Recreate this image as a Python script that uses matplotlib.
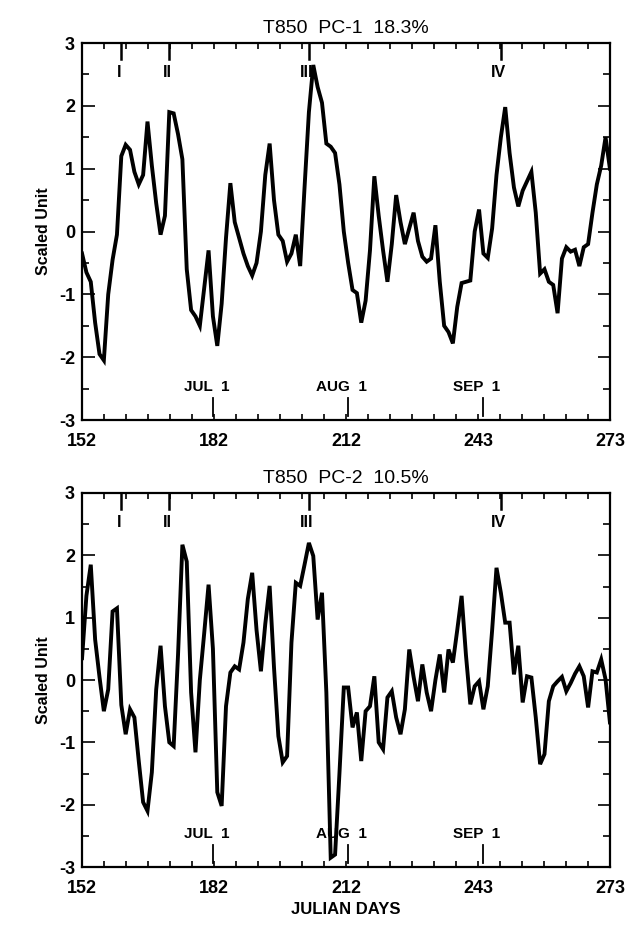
import numpy as np
import matplotlib
matplotlib.use("Agg")
import matplotlib.pyplot as plt
from matplotlib.ticker import MultipleLocator, FixedLocator

# julian days, June 1 to Sep 30
days = np.arange(152, 274)

pc1 = [-0.35, -0.65, -0.80, -1.45, -1.95, -2.05, -1.00, -0.45, -0.05, 1.20,
       1.38, 1.30, 0.95, 0.75, 0.90, 1.75, 1.05, 0.45, -0.05, 0.25,
       1.90, 1.88, 1.55, 1.15, -0.60, -1.25, -1.35, -1.50, -0.90, -0.30,
       -1.35, -1.82, -1.15, -0.10, 0.77, 0.15, -0.10, -0.35, -0.55, -0.70,
       -0.50, 0.00, 0.90, 1.40, 0.50, -0.05, -0.15, -0.48, -0.35, -0.05,
       -0.55, 0.70, 1.90, 2.65, 2.30, 2.05, 1.40, 1.35, 1.25, 0.75,
       0.00, -0.50, -0.93, -0.98, -1.45, -1.10, -0.30, 0.88, 0.25, -0.30,
       -0.80, -0.20, 0.58, 0.15, -0.20, 0.05, 0.30, -0.15, -0.40, -0.48,
       -0.43, 0.10, -0.80, -1.50, -1.60, -1.78, -1.20, -0.82, -0.80, -0.78,
       0.00, 0.35, -0.35, -0.42, 0.05, 0.90, 1.50, 1.98, 1.25, 0.70,
       0.40, 0.65, 0.80, 0.95, 0.30, -0.67, -0.60, -0.80, -0.85, -1.30,
       -0.43, -0.25, -0.32, -0.29, -0.55, -0.25, -0.20, 0.30, 0.75, 1.05,
       1.50, 1.00]

pc2 = [0.35, 1.35, 1.85, 0.65, 0.05, -0.50, -0.15, 1.10, 1.15, -0.40,
       -0.87, -0.47, -0.60, -1.30, -1.96, -2.10, -1.48, -0.15, 0.55, -0.42,
       -1.00, -1.06, 0.40, 2.17, 1.90, -0.20, -1.16, 0.00, 0.75, 1.53,
       0.50, -1.80, -2.02, -0.42, 0.12, 0.22, 0.17, 0.60, 1.30, 1.72,
       0.80, 0.14, 0.90, 1.51, 0.20, -0.90, -1.32, -1.22, 0.60, 1.56,
       1.51, 1.85, 2.20, 1.99, 0.97, 1.40, -0.20, -2.85, -2.80, -1.50,
       -0.12, -0.12, -0.76, -0.52, -1.30, -0.50, -0.42, 0.06, -1.00, -1.11,
       -0.28, -0.18, -0.60, -0.87, -0.47, 0.49, 0.05, -0.34, 0.25, -0.20,
       -0.50, 0.00, 0.41, -0.20, 0.49, 0.28, 0.80, 1.35, 0.40, -0.39,
       -0.10, -0.02, -0.47, -0.10, 0.80, 1.80, 1.40, 0.92, 0.92, 0.09,
       0.55, -0.36, 0.06, 0.04, -0.60, -1.35, -1.19, -0.34, -0.10, -0.02,
       0.05, -0.18, -0.05, 0.10, 0.22, 0.06, -0.44, 0.14, 0.12, 0.33,
       0.01, -0.68]

titles = ["T850  PC-1  18.3%", "T850  PC-2  10.5%"]
xtick_labels = ["152", "182", "212", "243", "273"]
event_days = [161, 172, 204, 248]
event_names = ["I", "II", "III", "IV"]
month_days = [182, 213, 244]
month_names = ["JUL  1", "AUG  1", "SEP  1"]

plt.rcParams["font.family"] = ["Liberation Sans", "DejaVu Sans"]
plt.rcParams["font.weight"] = "bold"
plt.rcParams["axes.unicode_minus"] = False

fig = plt.figure(figsize=(6.36, 9.33), dpi=100)
ax1 = fig.add_axes([0.129, 0.5498, 0.830, 0.4041])
ax2 = fig.add_axes([0.129, 0.0707, 0.830, 0.4009])

xmin, xmax = 152, 273
major_x = np.linspace(xmin, xmax, 5)
minor_x = np.linspace(xmin, xmax, 25)

for ax, series, title in zip([ax1, ax2], [pc1, pc2], titles):
    ax.plot(days, series, color="black", lw=2.8, solid_joinstyle="miter")
    ax.set_xlim(xmin, xmax)
    ax.set_ylim(-3, 3)
    ax.set_title(title, fontsize=14, fontweight="normal", pad=7)
    ax.set_ylabel("Scaled Unit", fontsize=11.5, fontweight="bold", labelpad=6)

    ax.xaxis.set_major_locator(FixedLocator(major_x))
    ax.xaxis.set_minor_locator(FixedLocator(minor_x))
    ax.set_xticklabels(xtick_labels)
    ax.yaxis.set_major_locator(MultipleLocator(1))
    ax.yaxis.set_minor_locator(MultipleLocator(0.5))
    ax.tick_params(axis="x", which="both", direction="in", top=True,
                   length=4, width=1.2, labelsize=13, pad=9)
    ax.tick_params(axis="y", which="major", direction="in", right=True,
                   length=9, width=1.2, labelsize=13, pad=5)
    ax.tick_params(axis="y", which="minor", direction="in", right=True,
                   length=5, width=1.2)
    for s in ax.spines.values():
        s.set_linewidth(1.6)

    # event markers hanging from the top axis
    for d, name in zip(event_days, event_names):
        ax.plot([d, d], [3, 2.75], color="black", lw=1.8)
        ax.text(d - 0.5, 2.53, name, ha="center", va="center", fontsize=11.5)

    # first day of each month along the bottom
    for d, name in zip(month_days, month_names):
        ax.plot([d, d], [-2.93, -2.65], color="black", lw=1.3)
        ax.text(d - 1.5, -2.47, name, ha="center", va="center", fontsize=11)

ax2.set_xlabel("JULIAN DAYS", fontsize=12, fontweight="bold", labelpad=4)

fig.savefig("out.png", dpi=100, facecolor="white")
